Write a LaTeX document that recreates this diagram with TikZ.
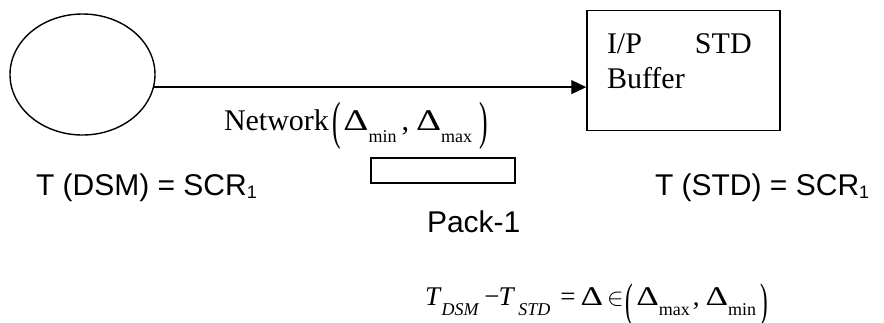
\documentclass[tikz,border=0pt]{standalone}
\usepackage{fontspec}
\usepackage{graphicx}
\setmainfont{Liberation Serif}
\newfontfamily\arialf{Liberation Sans}
\usetikzlibrary{shapes.geometric,arrows.meta}
\newcommand\mysub[1]{\raisebox{-12bp}{\fontsize{18bp}{20bp}\selectfont #1}}
\newcommand\mysubb[1]{\raisebox{-10bp}{\fontsize{18bp}{20bp}\selectfont #1}}
\newcommand\bigpar[1]{\raisebox{-8.5bp}{\scalebox{0.85}[1.75]{#1}}}
\newcommand\Dl{\scalebox{1.3}[1]{Δ}}
\tikzset{
  x=1bp, y=-1bp,
  shapeline/.style={draw=black, line width=1.4bp},
  txt/.style={anchor=base west, inner sep=0pt, outer sep=0pt, font=\fontsize{30bp}{36bp}\selectfont},
  eqtxt/.style={anchor=base west, inner sep=0pt, outer sep=0pt, font=\fontsize{27bp}{32bp}\selectfont},
  sanstxt/.style={txt, font=\arialf\fontsize{30bp}{36bp}\selectfont},
  arr/.style={draw=black, line width=1.3bp, -{Triangle[length=15bp,width=14bp]}}
}
\begin{document}
\begin{tikzpicture}
\useasboundingbox (0,0) rectangle (884,322);
% source ellipse
\node[shapeline, ellipse, inner sep=0pt, minimum width=145bp, minimum height=121bp] (el) at (82.5,74.5) {};
% buffer box
\node[shapeline, rectangle, inner sep=0pt, minimum width=193bp, minimum height=120bp, line width=1.5bp] (box) at (683.5,70.7) {};
\node[txt] (ip) at (607,53) {I/P\hspace{53bp}STD};
\node[txt] (buf) at (607,88) {Buffer};
% connector
\draw[arr] (el.-10) -- (el.-10 -| box.west);
% network label
\node[txt] (net) at (224,130) {Network\hspace{4bp}\bigpar{(}\hspace{2bp}\Dl\mysub{min}\hspace{5bp},\hspace{7bp}\Dl\mysub{max}\hspace{7bp}\bigpar{)}};
% packet
\node[shapeline, rectangle, inner sep=0pt, minimum width=144bp, minimum height=25bp, line width=1.5bp] (pack) at (443,170.5) {};
\node[sanstxt] (packl) at (427,232) {Pack-1};
% timing labels
\node[sanstxt] (tdsm) at (36,195) {T (DSM) = SCR\raisebox{-3.5bp}{\fontsize{18bp}{20bp}\selectfont 1}};
\node[sanstxt] (tstd) at (655,195) {T (STD) = SCR\raisebox{-3.5bp}{\fontsize{18bp}{20bp}\selectfont 1}};
% equation
\node[eqtxt] (eq) at (425,305) {\textit{T}\mysubb{\textit{DSM}}\hspace{5bp}−\hspace{-1bp}\textit{T}\hspace{3bp}\mysubb{\textit{STD}}\hspace{10bp}=\hspace{5bp}\Dl\hspace{4bp}$\in$\hspace{2bp}\raisebox{-3bp}{\bigpar{(}}\hspace{3bp}\Dl\mysubb{max}\hspace{3bp},\hspace{6bp}\Dl\mysubb{min}\hspace{4bp}\raisebox{-3bp}{\bigpar{)}}};
\end{tikzpicture}
\end{document}
